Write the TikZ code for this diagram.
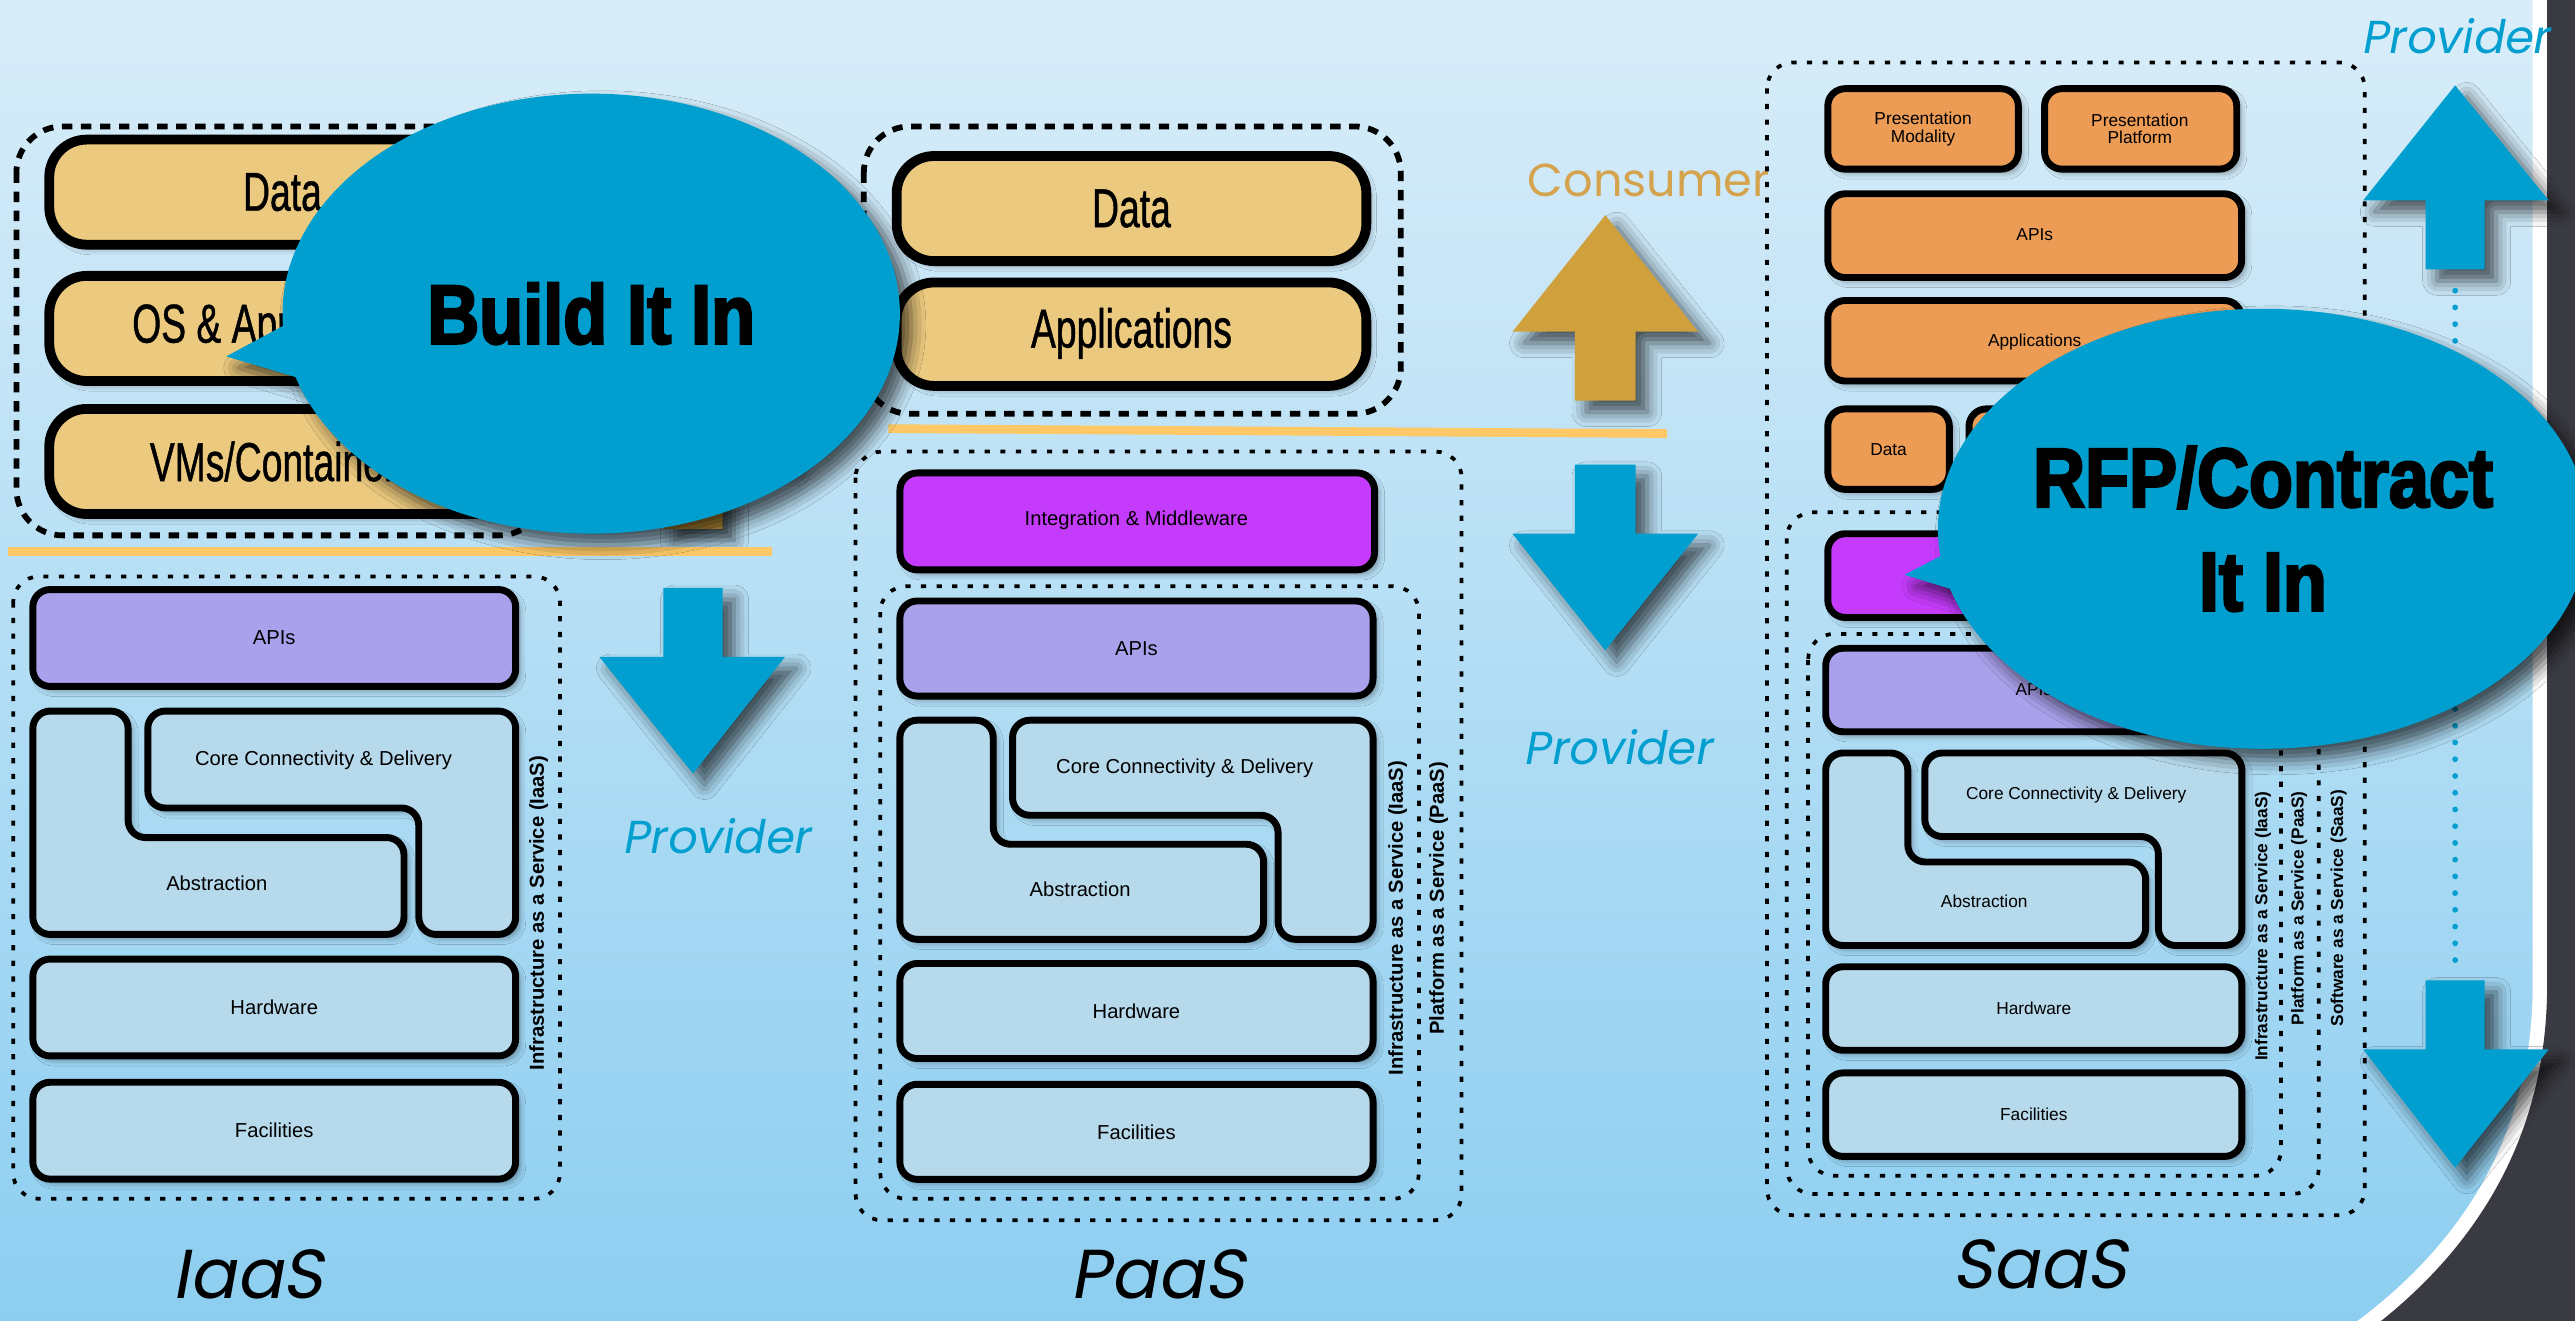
\documentclass[tikz,border=0pt]{standalone}
\usepackage{fontspec}
\setmainfont{Liberation Sans}
\newfontfamily\condfont[FakeStretch=0.68,FakeBold=0.8]{Liberation Sans}
\newfontfamily\heavyfont[FakeStretch=0.86,FakeBold=3]{Liberation Sans Bold}
\newfontfamily\geofont{Poppins}
\newfontfamily\geoslant[FakeSlant=0.18]{Poppins}
\usetikzlibrary{shapes.geometric,shadows.blur}

\definecolor{bgTop}{HTML}{D9EDF9}
\definecolor{bgMid}{HTML}{BFE3F6}
\definecolor{bgBottom}{HTML}{8DCEF0}
\definecolor{edgeDark}{HTML}{3A3A42}
\definecolor{softYellow}{HTML}{EBC97E}
\definecolor{apiPurple}{HTML}{AAA1EC}
\definecolor{midMagenta}{HTML}{C43BFB}
\definecolor{infraBlue}{HTML}{B6D9EB}
\definecolor{appOrange}{HTML}{EC9C55}
\definecolor{arrowGold}{HTML}{CFA03B}
\definecolor{textGold}{HTML}{D5A34E}
\definecolor{arrowBlue}{HTML}{019FCF}
\definecolor{lineYellow}{HTML}{FDC865}

\begin{document}
\begin{tikzpicture}[x=0.02cm, y=-0.02cm,
    stackbox/.style={draw=black, line width=2.4pt, rounded corners=6pt,
      blur shadow={shadow xshift=1.5pt, shadow yshift=-1.5pt, shadow blur radius=2pt, shadow opacity=35}},
    softbox/.style={draw=black, line width=3.4pt, rounded corners=13pt, fill=softYellow,
      blur shadow={shadow xshift=1.5pt, shadow yshift=-1.5pt, shadow blur radius=2pt, shadow opacity=35}},
    groupdash/.style={draw=black, line width=2pt, dash pattern=on 3.6pt off 3pt, rounded corners=16pt},
    groupdot/.style={draw=black, line width=1.3pt, dash pattern=on 1.8pt off 3.6pt, rounded corners=9pt},
    txt/.style={inner sep=0pt, font=\fontsize{#1}{#1}\selectfont}, txt/.default=7,
    sidetxt/.style={inner sep=0pt, rotate=90, font=\bfseries\fontsize{#1}{#1}\selectfont}, sidetxt/.default=7,
    softtxt/.style={inner sep=0pt, font=\condfont\fontsize{19}{19}\selectfont},
    wordtxt/.style={inner sep=0pt, font=\geofont\fontsize{16}{16}\selectfont},
    slanttxt/.style={inner sep=0pt, font=\geoslant\fontsize{#1}{#1}\selectfont}, slanttxt/.default=16,
    blockshade/.style={blur shadow={shadow xshift=4pt, shadow yshift=-4pt, shadow blur radius=5pt, shadow opacity=65}},
    divider/.style={lineYellow, line width=3pt},
    bubble/.style={ellipse, inner sep=0pt, fill=arrowBlue, minimum width=7.52cm, minimum height=5.36cm,
      align=center, font=\heavyfont\fontsize{29}{36}\selectfont, blockshade}]

    \useasboundingbox (0,0) rectangle (1568,804);
    % Background and slide edge
    \shade[top color=bgTop, middle color=bgMid, bottom color=bgBottom] (0,0) rectangle (1568,804);
    \draw[white, line width=10pt] (1551,-10) -- (1551,600) .. controls (1551,690) and (1510,760) .. (1440,812);
    \fill[edgeDark] (1551,-10) -- (1580,-10) -- (1580,814) -- (1440,812) .. controls (1510,760) and (1551,690) .. (1551,600) -- cycle;

    % IaaS: consumer part
    \draw[groupdash] (10,77) rectangle (332,326);
    \foreach \y/\t/\n in {85/Data/iaasData, 168/{OS \& Applications}/iaasOs, 249/{VMs/Containers}/iaasVms} {
        \draw[softbox] (30,\y) rectangle (314,\y+64);
        \node[softtxt] (\n) at (172,\y+32) {\t};
    }
    \fill[arrowGold, blockshade] (404,322) -- (440,322) -- (440,280) -- (478,280) -- (422,209) -- (365,280) -- (404,280) -- cycle;
    \draw[divider] (5,336) -- (470,336);

    % IaaS: provider part
    \draw[groupdot] (8,351) rectangle (341,730);
    \node[sidetxt] (iaasSide) at (328,556) {Infrastructure as a Service (IaaS)};
    \fill[arrowBlue, blockshade] (404,358) -- (440,358) -- (440,400) -- (478,400) -- (422,471) -- (365,400) -- (404,400) -- cycle;
    \node[slanttxt, arrowBlue] (iaasProvider) at (436,509) {Provider};
    \node[slanttxt=24] (iaasName) at (151,776) {IaaS};

    % PaaS: consumer part
    \draw[groupdash] (526,77) rectangle (853,252);
    \draw[softbox] (546,95) rectangle (832,159);
    \node[softtxt] (paasData) at (689,127) {Data};
    \draw[softbox] (546,172) rectangle (832,235);
    \node[softtxt] (paasApps) at (689,203) {Applications};
    \draw[divider] (541,261) -- (1015,264);
    \node[wordtxt, textGold] (paasConsumer) at (1004,110) {Consumer};
    \fill[arrowGold, blockshade] (959,244) -- (996,244) -- (996,202) -- (1034,202) -- (977.5,131) -- (921,202) -- (959,202) -- cycle;

    % PaaS: provider part
    \draw[groupdot] (521,275) rectangle (890,743);
    \draw[groupdot] (536,357) rectangle (864,730);
    \draw[stackbox, fill=midMagenta] (548,288) rectangle (837,347);
    \node[txt] (paasMiddle) at (692,317) {Integration \& Middleware};
    \node[sidetxt] (paasSideI) at (851,559) {Infrastructure as a Service (IaaS)};
    \node[sidetxt] (paasSideP) at (876,547) {Platform as a Service (PaaS)};
    \fill[arrowBlue, blockshade] (959,283) -- (996,283) -- (996,325) -- (1034,325) -- (977.5,396) -- (921,325) -- (959,325) -- cycle;
    \node[slanttxt, arrowBlue] (paasProvider) at (985,455) {Provider};
    \node[slanttxt=24] (paasName) at (705,776) {PaaS};

    % SaaS: groups and consumer layers
    \draw[groupdot] (1076,38) rectangle (1440,740);
    \draw[groupdot] (1088,312) rectangle (1412,727);
    \draw[groupdot] (1101,386) rectangle (1389,716);
    \draw[stackbox, fill=appOrange] (1113,54) rectangle (1229,103);
    \node[txt=6, align=center] (saasModality) at (1171,78.5) {Presentation\\Modality};
    \draw[stackbox, fill=appOrange] (1245,54) rectangle (1362,103);
    \node[txt=6, align=center] (saasPlatform) at (1303,78.5) {Presentation\\Platform};
    \draw[stackbox, fill=appOrange] (1113,118) rectangle (1365,169);
    \node[txt=6] (saasTopApis) at (1239,143) {APIs};
    \draw[stackbox, fill=appOrange] (1113,183) rectangle (1365,232);
    \node[txt=6] (saasApps) at (1239,208) {Applications};
    \draw[stackbox, fill=appOrange] (1113,249) rectangle (1187,298);
    \node[txt=6] (saasData) at (1150,273.5) {Data};
    \draw[stackbox, fill=appOrange] (1199,249) rectangle (1365,298);
    \draw[stackbox, fill=midMagenta] (1113,325) rectangle (1365,376);
    \node[sidetxt=6] (saasSideI) at (1378,564) {Infrastructure as a Service (IaaS)};
    \node[sidetxt=6] (saasSideP) at (1400,553) {Platform as a Service (PaaS)};
    \node[sidetxt=6] (saasSideS) at (1424,553) {Software as a Service (SaaS)};
    \node[slanttxt=24] (saasName) at (1242,770) {SaaS};

    % Lower stacks (same layers in each column)
    \foreach \col/\ox/\oy/\sx/\sy/\fs in {iaas/18/357/1/1/7, paas/546/364/0.98/0.981/7, saas/1110/393/0.862/0.862/6} {
        \begin{scope}[shift={(\ox,\oy)}, xscale=\sx, yscale=\sy]
            \draw[stackbox, fill=apiPurple] (2,2) rectangle (296,61);
            \draw[stackbox, fill=infraBlue] (2,76) -- (60,76) -- (60,153) -- (228,153) -- (228,212) -- (2,212) -- cycle;
            \draw[stackbox, fill=infraBlue] (72,76) -- (296,76) -- (296,212) -- (237,212) -- (237,135) -- (72,135) -- cycle;
            \draw[stackbox, fill=infraBlue] (2,227) rectangle (296,286);
            \draw[stackbox, fill=infraBlue] (2,302) rectangle (296,361);
            \node[txt=\fs] (\col-apis) at (149,31.5) {APIs};
            \node[txt=\fs] (\col-core) at (179,106) {Core Connectivity \& Delivery};
            \node[txt=\fs] (\col-abstr) at (114,181) {Abstraction};
            \node[txt=\fs] (\col-hw) at (149,256.5) {Hardware};
            \node[txt=\fs] (\col-fac) at (149,331.5) {Facilities};
        \end{scope}
    }

    % Right side arrows
    \node[slanttxt, arrowBlue] (edgeProvider) at (1495,22) {Provider};
    \fill[arrowBlue, blockshade] (1477,164) -- (1513,164) -- (1513,122) -- (1552,122) -- (1495,52) -- (1439,122) -- (1477,122) -- cycle;
    \draw[arrowBlue, line width=2pt, line cap=round, dash pattern=on 0pt off 5.8pt] (1495,177) -- (1495,588);
    \fill[arrowBlue, blockshade] (1477,597) -- (1513,597) -- (1513,639) -- (1552,639) -- (1495,711) -- (1439,639) -- (1477,639) -- cycle;

    % Speech bubbles
    \fill[arrowBlue, blockshade] (192,188) -- (138,217) -- (195,234) -- cycle;
    \node[bubble] (buildBubble) at (360,191) {Build It In};
    \fill[arrowBlue] (192,188) -- (138,217) -- (195,234) -- cycle;
    \fill[arrowBlue, blockshade] (1206,326) -- (1160,350) -- (1212,366) -- cycle;
    \node[bubble] (rfpBubble) at (1378,322) {RFP/Contract\\It In};
    \fill[arrowBlue] (1206,326) -- (1160,350) -- (1212,366) -- cycle;
\end{tikzpicture}
\end{document}
